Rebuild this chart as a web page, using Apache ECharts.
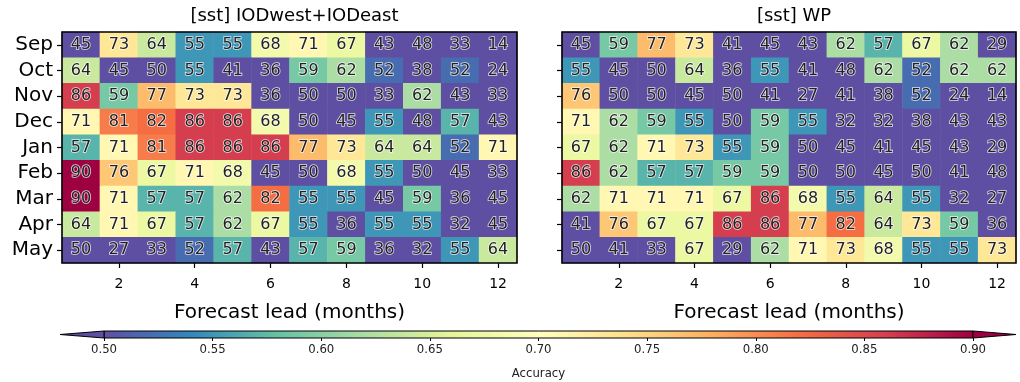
<!DOCTYPE html>
<html>
<head>
<meta charset="utf-8">
<script src="https://cdn.jsdelivr.net/npm/echarts@6/dist/echarts.min.js"></script>
<style>
html,body{margin:0;padding:0;background:#fff;}
#chart{width:1020px;height:382px;}
</style>
</head>
<body>
<div id="chart"></div>
<script>
// ---- Data ----
const months = ['Sep','Oct','Nov','Dec','Jan','Feb','Mar','Apr','May'];
const leads = ['1','2','3','4','5','6','7','8','9','10','11','12'];
const panelTitles = ['[sst] IODwest+IODeast', '[sst] WP'];
const iodValues = [
  [45,73,64,55,55,68,71,67,43,48,33,14],
  [64,45,50,55,41,36,59,62,52,38,52,24],
  [86,59,77,73,73,36,50,50,33,62,43,33],
  [71,81,82,86,86,68,50,45,55,48,57,43],
  [57,71,81,86,86,86,77,73,64,64,52,71],
  [90,76,67,71,68,45,50,68,55,50,45,33],
  [90,71,57,57,62,82,55,55,45,59,36,45],
  [64,71,67,57,62,67,55,36,55,55,32,45],
  [50,27,33,52,57,43,57,59,36,32,55,64]
];
const wpValues = [
  [45,59,77,73,41,45,43,62,57,67,62,29],
  [55,45,50,64,36,55,41,48,62,52,62,62],
  [76,50,50,45,50,41,27,41,38,52,24,14],
  [71,62,59,55,50,59,55,32,32,38,43,43],
  [67,62,71,73,55,59,50,45,41,45,43,29],
  [86,62,57,57,59,59,50,50,45,50,41,48],
  [62,71,71,71,67,86,68,55,64,55,32,27],
  [41,76,67,67,86,86,77,82,64,73,59,36],
  [50,41,33,67,29,62,71,73,68,55,55,73]
];
const colorMin = 50, colorMax = 90, colorStep = 5;
// Spectral_r
const spectralR = ['#5e4fa2','#3288bd','#66c2a5','#abdda4','#e6f598','#ffffbf','#fee08b','#fdae61','#f46d43','#d53e4f','#9e0142'];

// ---- Layout ----
const FONT = 'DejaVu Sans';
const grids = [
  {left: 62, top: 32, width: 455, height: 231},
  {left: 562, top: 32, width: 454, height: 231}
];
const cbar = {left: 104, top: 331, width: 869, height: 7, tipL: 60, tipR: 1016};

function toHeat(mat){
  const out = [];
  mat.forEach((row, r) => row.forEach((v, c) => out.push([c, r, v])));
  return out;
}
const evenTick = (i) => i % 2 === 1;

const xAxes = [], yAxes = [], series = [], titles = [], graphics = [];
[iodValues, wpValues].forEach((mat, k) => {
  const g = grids[k];
  xAxes.push({
    type: 'category', gridIndex: k, data: leads, position: 'bottom',
    axisLine: {show: false},
    axisTick: {show: true, alignWithLabel: true, interval: evenTick, length: 5, lineStyle: {color: '#000', width: 1.2}},
    axisLabel: {interval: evenTick, fontSize: 14, color: '#000', fontFamily: FONT, margin: 14},
    splitLine: {show: false},
    name: 'Forecast lead (months)', nameLocation: 'middle', nameGap: 40,
    nameTextStyle: {fontSize: 20, color: '#000', fontFamily: FONT}
  });
  yAxes.push({
    type: 'category', gridIndex: k, data: months, inverse: true,
    axisLine: {show: false},
    axisTick: {show: true, alignWithLabel: true, interval: 0, length: 5, lineStyle: {color: '#000', width: 1.2}},
    axisLabel: {show: k === 0, interval: 0, fontSize: 20, color: '#000', fontFamily: FONT, margin: 9},
    splitLine: {show: false}
  });
  series.push({
    type: 'heatmap', xAxisIndex: k, yAxisIndex: k,
    data: toHeat(mat),
    label: {
      show: true, fontSize: 16, fontFamily: FONT, color: '#222',
      textBorderColor: 'rgba(255,255,255,0.8)', textBorderWidth: 1.6
    },
    emphasis: {disabled: true},
    itemStyle: {borderWidth: 0}
  });
  titles.push({
    text: panelTitles[k], left: g.left + g.width / 2, top: 2, textAlign: 'center',
    textStyle: {fontSize: 18, fontWeight: 'normal', color: '#000', fontFamily: FONT}
  });
  graphics.push({
    type: 'rect', z: 100, silent: true,
    shape: {x: g.left, y: g.top, width: g.width, height: g.height},
    style: {fill: null, stroke: '#000', lineWidth: 1.6}
  });
});

// colorbar axis
xAxes.push({
  type: 'value', gridIndex: 2, min: colorMin, max: colorMax, interval: colorStep, position: 'bottom',
  axisLine: {show: false},
  axisTick: {show: true, length: 3, lineStyle: {color: '#000'}},
  axisLabel: {fontSize: 13, color: '#222', fontFamily: 'DejaVu Sans Condensed, DejaVu Sans', margin: 5,
    formatter: v => (v / 100).toFixed(2)},
  splitLine: {show: false},
  name: 'Accuracy', nameLocation: 'middle', nameGap: 29,
  nameTextStyle: {fontSize: 13, color: '#222', fontFamily: 'DejaVu Sans Condensed, DejaVu Sans'}
});
yAxes.push({type: 'value', gridIndex: 2, show: false, min: 0, max: 1});

graphics.push({
  type: 'polygon', z: 100, silent: true,
  shape: {points: [[cbar.left, cbar.top], [cbar.tipL, cbar.top + cbar.height / 2], [cbar.left, cbar.top + cbar.height]]},
  style: {fill: spectralR[0], stroke: '#000', lineWidth: 1}
});
graphics.push({
  type: 'polygon', z: 100, silent: true,
  shape: {points: [[cbar.left + cbar.width, cbar.top], [cbar.tipR, cbar.top + cbar.height / 2], [cbar.left + cbar.width, cbar.top + cbar.height]]},
  style: {fill: spectralR[spectralR.length - 1], stroke: '#000', lineWidth: 1}
});

const option = {
  backgroundColor: '#fff',
  animation: false,
  title: titles,
  grid: [
    grids[0], grids[1],
    {left: cbar.left, top: cbar.top, width: cbar.width, height: cbar.height, show: true,
     borderColor: '#000', borderWidth: 1,
     backgroundColor: {type: 'linear', x: 0, y: 0, x2: 1, y2: 0,
       colorStops: spectralR.map((c, i) => ({offset: i / (spectralR.length - 1), color: c}))}}
  ],
  xAxis: xAxes,
  yAxis: yAxes,
  visualMap: {
    type: 'continuous', show: false, min: colorMin, max: colorMax, seriesIndex: [0, 1],
    inRange: {color: spectralR}
  },
  series: series,
  graphic: graphics
};

const chart = echarts.init(document.getElementById('chart'), null, {renderer: 'canvas'});
chart.setOption(option);
</script>
</body>
</html>
